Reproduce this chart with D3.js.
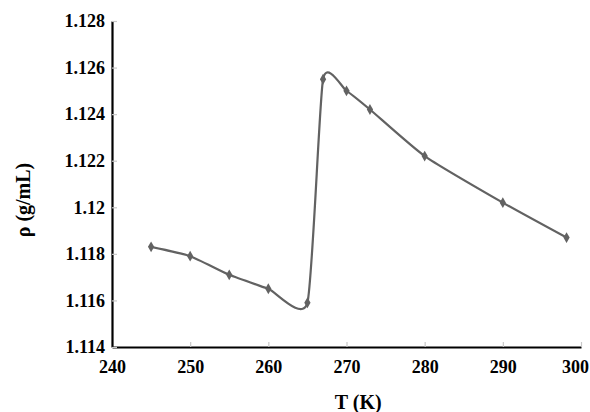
<!DOCTYPE html>
<meta charset="utf-8">
<script src="https://d3js.org/d3.v7.min.js"></script>
<style>
    body { margin: 0; background: #fff; }
    .tick text, .axis_label {
        font-family: "Liberation Serif", "Times New Roman", serif;
        font-weight: bold;
        fill: #000;
    }
    .tick text { font-size: 18px; }
    .axis_label { font-size: 20px; }
    .line {
        fill: none;
        stroke: #626262;
        stroke-width: 2.2;
    }
</style>
<div id="chart"><svg></svg></div>
<script>
// temperature (K) and density (g/mL)
const temps = [245, 250, 255, 260, 265, 267, 270, 273, 280, 290, 298.15];
const rho = [1.1183, 1.1179, 1.1171, 1.1165, 1.1159, 1.1255, 1.1250, 1.1242, 1.1222, 1.1202, 1.1187];

const xTicks = [240, 250, 260, 270, 280, 290, 300];
const yTicks = [1.114, 1.116, 1.118, 1.12, 1.122, 1.124, 1.126, 1.128];
const yTickLabels = ["1.114", "1.116", "1.118", "1.12", "1.122", "1.124", "1.126", "1.128"];

const W = 590, H = 412;
const margin = {top: 21, right: 9, bottom: 65, left: 112},
    width = W - margin.left - margin.right,
    height = H - margin.top - margin.bottom;

const data = temps.map((t, i) => ({T: t, rho: rho[i]}));

const x = d3.scaleLinear().domain([240, 300]).range([0, width]);
const y = d3.scaleLinear().domain([1.114, 1.128]).range([height, 0]);

const svg = d3.select("#chart").select("svg")
    .attr("width", W)
    .attr("height", H)
    .append("g")
    .attr("transform", "translate(" + margin.left + "," + margin.top + ")");

// x axis, ticks point inward
const xAxis = svg.append("g")
    .attr("transform", "translate(0," + height + ")")
    .call(d3.axisBottom(x).tickValues(xTicks).tickSizeInner(-5).tickSizeOuter(0).tickPadding(13));
xAxis.select(".domain").attr("stroke", "#000").attr("stroke-width", 2.2);
xAxis.selectAll(".tick line").attr("stroke", "#c8c8c8").attr("stroke-width", 1.2);
// last label is pulled in so it stays inside the frame
xAxis.selectAll(".tick text").filter(d => d === 300).attr("dx", -6);

// y axis
const yAxis = svg.append("g")
    .call(d3.axisLeft(y).tickValues(yTicks).tickFormat((d, i) => yTickLabels[i])
        .tickSizeInner(-5).tickSizeOuter(0).tickPadding(7));
yAxis.select(".domain").attr("stroke", "#000").attr("stroke-width", 2.2);
yAxis.selectAll(".tick line").attr("stroke", "#c8c8c8").attr("stroke-width", 1.2);

// smoothed line like the spreadsheet chart
const line = d3.line()
    .x(d => x(d.T))
    .y(d => y(d.rho))
    .curve(d3.curveCardinal.tension(0.45));

svg.append("path")
    .datum(data)
    .attr("class", "line")
    .attr("d", line);

svg.selectAll(".marker")
    .data(data)
    .enter().append("path")
    .attr("class", "marker")
    .attr("d", d3.symbol().type(d3.symbolDiamond).size(34))
    .attr("transform", d => "translate(" + x(d.T) + "," + y(d.rho) + ")")
    .attr("fill", "#626262");

// axis titles
svg.append("text")
    .attr("class", "axis_label")
    .attr("x", x(271.5))
    .attr("y", height + 62)
    .attr("text-anchor", "middle")
    .text("T (K)");

svg.append("text")
    .attr("class", "axis_label")
    .attr("transform", "translate(" + (-82) + "," + (200 - margin.top) + ") rotate(-90)")
    .attr("text-anchor", "middle")
    .text("ρ (g/mL)");
</script>
